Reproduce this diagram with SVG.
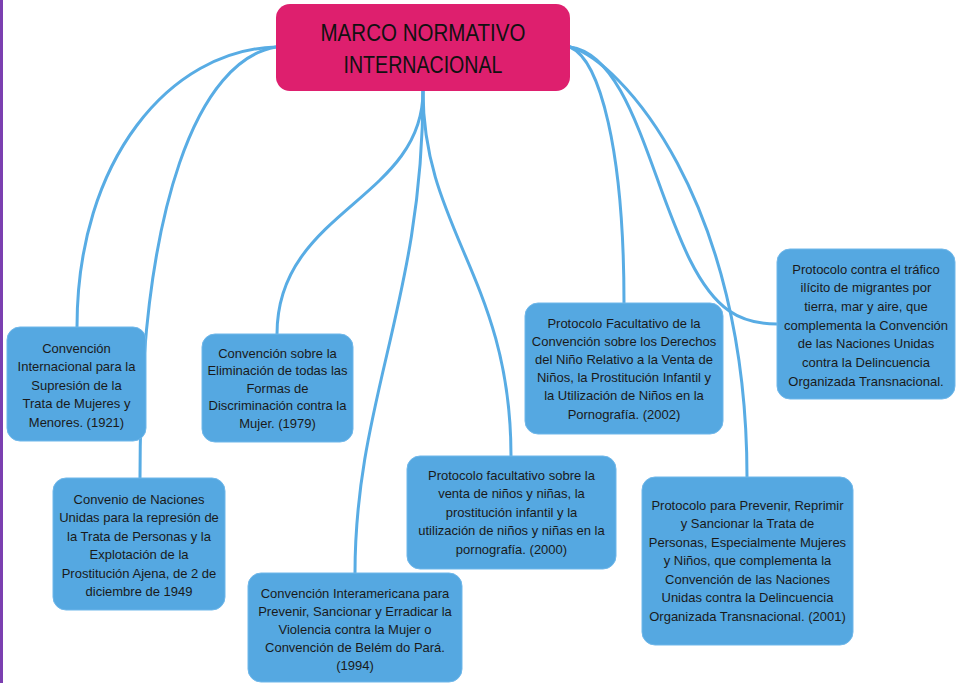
<svg xmlns="http://www.w3.org/2000/svg" width="956" height="683" viewBox="0 0 956 683">
<style>
.node{fill:#55a8e1;stroke:#6fb7ea;stroke-width:1}
.t{font-family:"Liberation Sans",Arial,sans-serif;font-size:13px;fill:#1a1a1a;text-anchor:middle}
.title{font-family:"Liberation Sans",Arial,sans-serif;font-size:24px;fill:#111;text-anchor:middle}
.c{fill:none;stroke:#58ace4;stroke-width:3;stroke-linecap:round}
</style>
<rect x="0" y="0" width="956" height="683" fill="#ffffff"/>
<rect x="0" y="0" width="3" height="683" fill="#7b3fb0"/>
<g id="connectors">
<path class="c" d="M276,47 C170,50 77,160 77,327"/>
<path class="c" d="M276,47 C200,60 140,200 140,478"/>
<path class="c" d="M423,91 C423,200 277,210 277,334"/>
<path class="c" d="M423,91 C423,300 355,400 355,573"/>
<path class="c" d="M423,91 C423,230 511,280 511,456"/>
<path class="c" d="M570,47 C600,60 624,150 624,303"/>
<path class="c" d="M570,47 C630,55 650,180 690,260 C715,310 740,324 777,324"/>
<path class="c" d="M570,47 C620,60 747,200 747,477"/>
</g>
<g id="root">
<rect x="276" y="4" width="294" height="87" rx="14" fill="#de1f6e"/>
<text class="title" x="423" y="41" textLength="205" lengthAdjust="spacingAndGlyphs">MARCO NORMATIVO</text>
<text class="title" x="423" y="73" textLength="159" lengthAdjust="spacingAndGlyphs">INTERNACIONAL</text>
</g>
<g id="n1">
<rect class="node" x="7" y="327" width="139" height="114" rx="13"/>
<text class="t" x="76.5" y="352.5">Convención</text>
<text class="t" x="76.5" y="371">Internacional para la</text>
<text class="t" x="76.5" y="389.5">Supresión de la</text>
<text class="t" x="76.5" y="408">Trata de Mujeres y</text>
<text class="t" x="76.5" y="426.5">Menores. (1921)</text>
</g>
<g id="n2">
<rect class="node" x="53" y="478" width="172" height="132" rx="13"/>
<text class="t" x="139" y="503.5">Convenio de Naciones</text>
<text class="t" x="139" y="522">Unidas para la represión de</text>
<text class="t" x="139" y="540.5">la Trata de Personas y la</text>
<text class="t" x="139" y="559">Explotación de la</text>
<text class="t" x="139" y="577.5">Prostitución Ajena, de 2 de</text>
<text class="t" x="139" y="596">diciembre de 1949</text>
</g>
<g id="n3">
<rect class="node" x="202" y="334" width="151" height="108" rx="13"/>
<text class="t" x="277.5" y="357.5">Convención sobre la</text>
<text class="t" x="277.5" y="375">Eliminación de todas las</text>
<text class="t" x="277.5" y="392.5">Formas de</text>
<text class="t" x="277.5" y="410">Discriminación contra la</text>
<text class="t" x="277.5" y="427.5">Mujer. (1979)</text>
</g>
<g id="n4">
<rect class="node" x="248" y="573" width="214" height="109" rx="13"/>
<text class="t" x="355" y="597.5">Convención Interamericana para</text>
<text class="t" x="355" y="615.5">Prevenir, Sancionar y Erradicar la</text>
<text class="t" x="355" y="633.5">Violencia contra la Mujer o</text>
<text class="t" x="355" y="651.5">Convención de Belém do Pará.</text>
<text class="t" x="355" y="669.5">(1994)</text>
</g>
<g id="n5">
<rect class="node" x="407" y="456" width="209" height="113" rx="13"/>
<text class="t" x="511.5" y="479.5">Protocolo facultativo sobre la</text>
<text class="t" x="511.5" y="498">venta de niños y niñas, la</text>
<text class="t" x="511.5" y="516.5">prostitución infantil y la</text>
<text class="t" x="511.5" y="535">utilización de niños y niñas en la</text>
<text class="t" x="511.5" y="553.5">pornografía. (2000)</text>
</g>
<g id="n6">
<rect class="node" x="525" y="303" width="198" height="131" rx="13"/>
<text class="t" x="624" y="327.5">Protocolo Facultativo de la</text>
<text class="t" x="624" y="345.7">Convención sobre los Derechos</text>
<text class="t" x="624" y="363.9">del Niño Relativo a la Venta de</text>
<text class="t" x="624" y="382.1">Niños, la Prostitución Infantil y</text>
<text class="t" x="624" y="400.3">la Utilización de Niños en la</text>
<text class="t" x="624" y="418.5">Pornografía. (2002)</text>
</g>
<g id="n7">
<rect class="node" x="777" y="249" width="178" height="150" rx="13"/>
<text class="t" x="866" y="273.5">Protocolo contra el tráfico</text>
<text class="t" x="866" y="292.2">ilícito de migrantes por</text>
<text class="t" x="866" y="310.9">tierra, mar y aire, que</text>
<text class="t" x="866" y="329.6">complementa la Convención</text>
<text class="t" x="866" y="348.3">de las Naciones Unidas</text>
<text class="t" x="866" y="367">contra la Delincuencia</text>
<text class="t" x="866" y="385.7">Organizada Transnacional.</text>
</g>
<g id="n8">
<rect class="node" x="642" y="477" width="211" height="168" rx="13"/>
<text class="t" x="747.5" y="509.5">Protocolo para Prevenir, Reprimir</text>
<text class="t" x="747.5" y="528">y Sancionar la Trata de</text>
<text class="t" x="747.5" y="546.5">Personas, Especialmente Mujeres</text>
<text class="t" x="747.5" y="565">y Niños, que complementa la</text>
<text class="t" x="747.5" y="583.5">Convención de las Naciones</text>
<text class="t" x="747.5" y="602">Unidas contra la Delincuencia</text>
<text class="t" x="747.5" y="620.5">Organizada Transnacional. (2001)</text>
</g>
</svg>
